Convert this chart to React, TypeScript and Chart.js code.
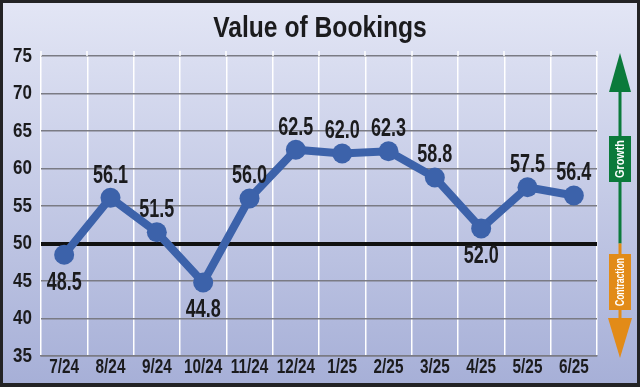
import React, { useEffect, useRef } from "react";
import { Chart, registerables } from "chart.js";

Chart.register(...registerables);

const categories = ["7/24", "8/24", "9/24", "10/24", "11/24", "12/24", "1/25", "2/25", "3/25", "4/25", "5/25", "6/25"];
const bookings = [48.5, 56.1, 51.5, 44.8, 56.0, 62.5, 62.0, 62.3, 58.8, 52.0, 57.5, 56.4];
const labelSides = ["below", "above", "above", "below", "above", "above", "above", "above", "above", "below", "above", "above"];
const yTicks = [35, 40, 45, 50, 55, 60, 65, 70, 75];
const baseline = 50;
const titleText = "Value of Bookings";

const FONT = "'Liberation Sans', Arial, Helvetica, sans-serif";
const INK = "#1b1b1d";

function drawCondensed(
  ctx: CanvasRenderingContext2D,
  text: string,
  x: number,
  y: number,
  font: string,
  scaleX: number,
  align: "left" | "center" | "right",
  base: CanvasTextBaseline,
  color: string
) {
  ctx.save();
  ctx.font = font;
  ctx.fillStyle = color;
  ctx.textAlign = "left";
  ctx.textBaseline = base;
  const w = ctx.measureText(text).width * scaleX;
  const x0 = align === "center" ? x - w / 2 : align === "right" ? x - w : x;
  ctx.translate(x0, y);
  ctx.scale(scaleX, 1);
  ctx.fillText(text, 0, 0);
  ctx.restore();
}

const framePlugin = {
  id: "frame",
  beforeDraw(chart: any) {
    const { ctx, width, height } = chart;
    ctx.save();
    const g = ctx.createLinearGradient(0, 0, 0, height);
    g.addColorStop(0, "#e3e6f5");
    g.addColorStop(1, "#a6afd7");
    ctx.fillStyle = g;
    ctx.fillRect(0, 0, width, height);
    ctx.strokeStyle = "#232325";
    ctx.lineWidth = 3;
    ctx.strokeRect(1.5, 1.5, width - 3, height - 3);
    ctx.fillStyle = "#232325";
    ctx.fillRect(0, height - 4, width, 4);
    ctx.restore();
  },
  beforeDatasetsDraw(chart: any) {
    const { ctx, chartArea, scales } = chart;
    const x = scales.x;
    ctx.save();
    ctx.strokeStyle = "#ffffff";
    ctx.lineWidth = 1.5;
    for (let i = 0; i <= categories.length; i++) {
      const px = Math.round(x.getPixelForValue(i - 0.5));
      ctx.beginPath();
      ctx.moveTo(px, chartArea.top - 5);
      ctx.lineTo(px, chartArea.top);
      ctx.stroke();
    }
    ctx.restore();
  },
};

const textPlugin = {
  id: "condensedText",
  afterDraw(chart: any) {
    const { ctx, scales, width } = chart;
    drawCondensed(ctx, titleText, width / 2, 37, `bold 29px ${FONT}`, 0.85, "center", "alphabetic", INK);
    const ys = scales.y;
    ys.ticks.forEach((t: any, i: number) => {
      const py = ys.getPixelForTick(i);
      drawCondensed(ctx, String(t.value), 32, py, `bold 20px ${FONT}`, 0.85, "right", "middle", INK);
    });
    const xs = scales.x;
    categories.forEach((c, i) => {
      const px = xs.getPixelForValue(i);
      drawCondensed(ctx, c, px, 373, `bold 21px ${FONT}`, 0.73, "center", "alphabetic", INK);
    });
    const meta = chart.getDatasetMeta(0);
    meta.data.forEach((pt: any, i: number) => {
      const dy = labelSides[i] === "above" ? -22 : 28;
      drawCondensed(ctx, bookings[i].toFixed(1), pt.x, pt.y + dy, `bold 25px ${FONT}`, 0.72, "center", "middle", INK);
    });
  },
};

const arrowPlugin = {
  id: "arrows",
  afterDraw(chart: any) {
    const { ctx, chartArea, scales } = chart;
    const y = scales.y;
    const cx = 620;
    const mid = y.getPixelForValue(baseline);
    const green = "#0b7a3b";
    const orange = "#e28b18";
    ctx.save();
    ctx.fillStyle = green;
    ctx.fillRect(cx - 1.5, chartArea.top + 30, 3, mid - chartArea.top - 30);
    ctx.beginPath();
    ctx.moveTo(cx, chartArea.top - 3);
    ctx.lineTo(cx + 11, chartArea.top + 36);
    ctx.lineTo(cx - 11, chartArea.top + 36);
    ctx.closePath();
    ctx.fill();
    ctx.fillStyle = orange;
    ctx.fillRect(cx - 1.5, mid, 3, 320 - mid);
    ctx.beginPath();
    ctx.moveTo(cx - 12, 318);
    ctx.lineTo(cx + 12, 318);
    ctx.lineTo(cx, 358);
    ctx.closePath();
    ctx.fill();
    ctx.fillStyle = green;
    ctx.fillRect(cx - 11, 136, 22, 46);
    ctx.fillStyle = orange;
    ctx.fillRect(cx - 11, 254, 22, 56);
    ctx.restore();

    ctx.save();
    ctx.translate(cx + 0.5, 159);
    ctx.rotate(-Math.PI / 2);
    drawCondensed(ctx, "Growth", 0, 0, `bold 13px ${FONT}`, 0.83, "center", "middle", "#ffffff");
    ctx.restore();
    ctx.save();
    ctx.translate(cx + 0.5, 282);
    ctx.rotate(-Math.PI / 2);
    drawCondensed(ctx, "Contraction", 0, 0, `bold 13px ${FONT}`, 0.66, "center", "middle", "#ffffff");
    ctx.restore();
  },
};

export default function App() {
  const ref = useRef<HTMLCanvasElement | null>(null);
  useEffect(() => {
    document.body.style.margin = "0";
    if (!ref.current) return;
    const chart = new Chart(ref.current, {
      type: "line",
      data: {
        labels: categories,
        datasets: [
          {
            data: bookings,
            borderColor: "#3c62aa",
            backgroundColor: "#3c62aa",
            borderWidth: 8,
            pointRadius: 10,
            pointHoverRadius: 10,
            pointBorderWidth: 0,
            pointBackgroundColor: "#3c62aa",
            tension: 0,
          },
        ],
      },
      options: {
        responsive: false,
        animation: false,
        devicePixelRatio: 1,
        layout: { padding: { left: 0, right: 43, top: 56, bottom: 0 } },
        plugins: {
          legend: { display: false },
          tooltip: { enabled: false },
          title: { display: false },
        },
        scales: {
          x: {
            offset: true,
            grid: { display: true, offset: true, color: "#ffffff", lineWidth: 1.5, drawTicks: false },
            border: { display: true, color: "#7a7b84", width: 1.5 },
            ticks: { display: false, autoSkip: false },
            afterFit: (s: any) => {
              s.height = 31;
            },
          },
          y: {
            min: 35,
            max: 75,
            afterBuildTicks: (s: any) => {
              s.ticks = yTicks.map((v) => ({ value: v }));
            },
            grid: {
              drawTicks: false,
              color: (c: any) => (c.tick && c.tick.value === baseline ? "#111111" : "#7a7b84"),
              lineWidth: (c: any) => (c.tick && c.tick.value === baseline ? 4 : 1.5),
            },
            border: { display: false },
            ticks: { display: false },
            afterFit: (s: any) => {
              s.width = 41;
            },
          },
        },
      },
      plugins: [framePlugin, textPlugin, arrowPlugin],
    });
    return () => chart.destroy();
  }, []);
  return (
    <div style={{ width: 640, height: 387, position: "relative" }}>
      <canvas ref={ref} width={640} height={387} style={{ display: "block" }} />
    </div>
  );
}
